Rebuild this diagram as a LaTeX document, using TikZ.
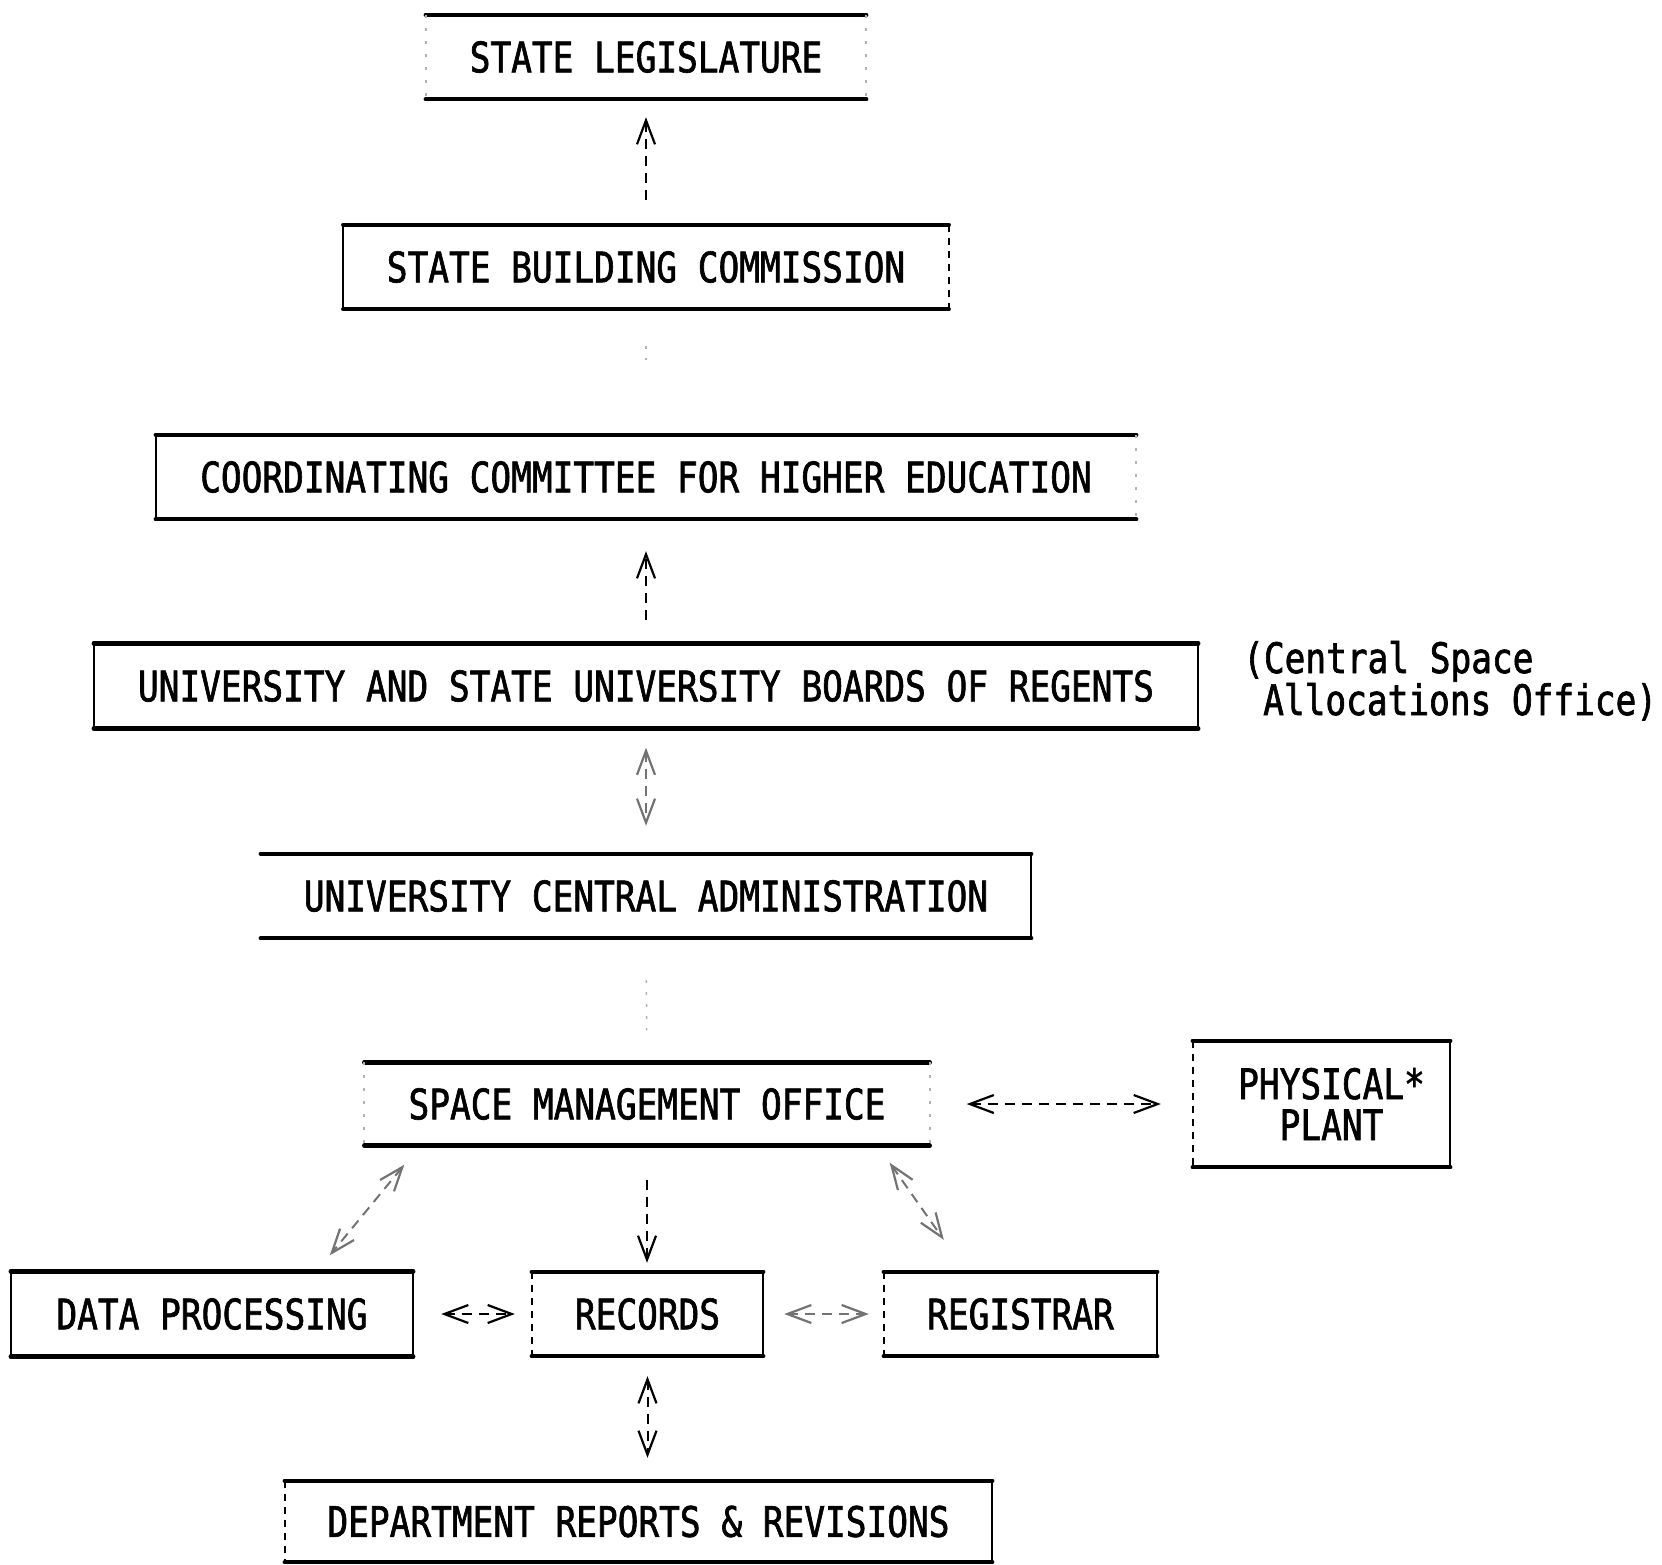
\documentclass[tikz,border=0pt]{standalone}
\usepackage{fontspec}
\newfontfamily\lgfont[FakeStretch=0.82,FakeBold=1.5]{DejaVu Sans Mono}
\usetikzlibrary{arrows.meta,calc}
\newcommand{\orgframe}[3]{%
  \draw[topbot] (#1.north west) -- (#1.north east) (#1.south west) -- (#1.south east);
  \draw[sideline,#2] (#1.north west) -- (#1.south west);
  \draw[sideline,#3] (#1.north east) -- (#1.south east);}
\begin{document}
\begin{tikzpicture}[x=1pt,y=-1pt,
  orgtext/.style={font=\lgfont\fontsize{42}{41}\selectfont},
  orgbox/.style={draw=none,inner sep=0pt,minimum width=#1,minimum height=84pt,
    orgtext,text height=30.6pt,text depth=0pt},
  topbot/.style={line width=4.5pt,line cap=round},
  sideline/.style={line width=2pt},
  solidside/.style={},
  dashside/.style={dash pattern=on 7pt off 6pt},
  faintside/.style={draw=black!30,dash pattern=on 3pt off 10pt},
  noside/.style={draw=none},
  >={Straight Barb[length=24pt,width=18pt,line width=2.2pt]},
  conn/.style={line width=2pt,dash pattern=on 10pt off 7pt},
  weak/.style={conn,draw=black!55},
  faint/.style={line width=1.5pt,draw=black!30,dash pattern=on 3pt off 9pt}]
\useasboundingbox (0,0) rectangle (1662,1564);

% boxes
\node[orgbox=440pt] (leg) at (646,57) {STATE LEGISLATURE};
\node[orgbox=605pt] (sbc) at (646,267) {STATE BUILDING COMMISSION};
\node[orgbox=980pt] (cche) at (646,477) {COORDINATING COMMITTEE FOR HIGHER EDUCATION};
\node[orgbox=1104pt,minimum height=85pt] (reg) at (646,686) {UNIVERSITY AND STATE UNIVERSITY BOARDS OF REGENTS};
\node[orgbox=770pt] (uca) at (646,896) {UNIVERSITY CENTRAL ADMINISTRATION};
\node[orgbox=565pt,minimum height=83pt] (smo) at (647,1104) {SPACE MANAGEMENT OFFICE};
\node[draw=none,inner sep=0pt,minimum width=257pt,minimum height=126pt,orgtext,align=center]
  (pp) at (1321.5,1104) {\hspace*{20pt}PHYSICAL*\\\hspace*{20pt}PLANT};
\node[orgbox=402pt,minimum height=85pt] (dp) at (212,1314) {DATA PROCESSING};
\node[orgbox=231pt] (rec) at (647.5,1314) {RECORDS};
\node[orgbox=273pt] (regs) at (1020.5,1314) {REGISTRAR};
\node[orgbox=707pt,minimum height=81pt] (dept) at (638.5,1521.5) {DEPARTMENT REPORTS \& REVISIONS};

% annotation
\node[orgtext,inner sep=0pt,anchor=base west] (note1) at (1243,673) {(Central Space};
\node[orgtext,inner sep=0pt,anchor=base west] (note2) at (1263,715) {Allocations Office)};

% frames
\orgframe{leg}{faintside}{faintside}
\orgframe{sbc}{solidside}{dashside}
\orgframe{cche}{solidside}{faintside}
\orgframe{reg}{solidside}{solidside}
\orgframe{uca}{noside}{solidside}
\orgframe{smo}{faintside}{faintside}
\orgframe{pp}{dashside}{solidside}
\orgframe{dp}{solidside}{solidside}
\orgframe{rec}{dashside}{solidside}
\orgframe{regs}{dashside}{solidside}
\orgframe{dept}{dashside}{solidside}

% connectors
\draw[conn,->,shorten <=25pt,shorten >=18pt] (sbc) -- (leg);
\draw[faint,shorten <=37pt,shorten >=75pt] (sbc) -- (cche);
\draw[conn,->,shorten <=23pt,shorten >=32pt] (reg) -- (cche);
\draw[weak,<->,shorten <=19pt,shorten >=28pt] (reg) -- (uca);
\draw[faint,shorten <=42pt,shorten >=32pt] (uca) -- (smo);
\draw[conn,<->,shorten <=37pt,shorten >=32pt] (smo) -- (pp);
\draw[weak,<->] ([xshift=40pt,yshift=-19pt]smo.south west) -- ([xshift=319pt,yshift=16pt]dp.north west);
\draw[conn,->,shorten <=34pt,shorten >=9pt] (smo.south) -- (smo.south |- rec.north);
\draw[weak,<->] ([xshift=-40pt,yshift=-17pt]smo.south east) -- ([xshift=60pt,yshift=32pt]regs.north west);
\draw[conn,<->,shorten <=28pt,shorten >=17pt] (dp) -- (rec);
\draw[weak,<->,shorten <=21pt,shorten >=15pt] (rec) -- (regs);
\draw[conn,<->,shorten <=20pt,shorten >=23pt] (rec.south) -- (rec.south |- dept.north);
\end{tikzpicture}
\end{document}
